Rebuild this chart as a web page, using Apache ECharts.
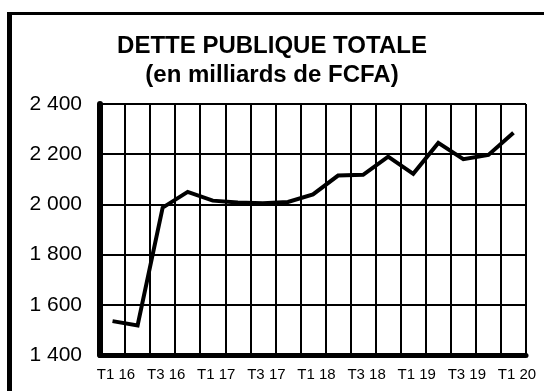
<!DOCTYPE html>
<html>
<head>
<meta charset="utf-8">
<script src="https://cdn.jsdelivr.net/npm/echarts@6/dist/echarts.min.js"></script>
<style>
  html, body { margin: 0; padding: 0; background: #fff; }
  #chart { width: 544px; height: 391px; }
</style>
</head>
<body>
<div id="chart"></div>
<script>
// Quarterly public debt, billions of FCFA
const quarters = ['T1 16', 'T2 16', 'T3 16', 'T4 16', 'T1 17', 'T2 17', 'T3 17', 'T4 17',
                  'T1 18', 'T2 18', 'T3 18', 'T4 18', 'T1 19', 'T2 19', 'T3 19', 'T4 19', 'T1 20'];
const detteTotale = [1535, 1518, 1987, 2050, 2015, 2008, 2005, 2010,
                     2040, 2115, 2118, 2190, 2122, 2245, 2180, 2197, 2285];
const yTicks = [1400, 1600, 1800, 2000, 2200, 2400];

const FONT = '"Liberation Sans", Arial, sans-serif';

function fmtThousands(v) {
  return String(v).replace(/\B(?=(\d{3})+(?!\d))/g, ' ');
}

const chart = echarts.init(document.getElementById('chart'), null, { renderer: 'canvas' });

chart.setOption({
  animation: false,
  backgroundColor: '#ffffff',
  title: {
    text: 'DETTE PUBLIQUE TOTALE\n(en milliards de FCFA)',
    left: 'center',
    top: 32,
    padding: 0,
    textStyle: {
      fontFamily: FONT,
      fontSize: 24,
      fontWeight: 'bold',
      color: '#000',
      lineHeight: 29,
      align: 'center'
    }
  },
  grid: { left: 100, right: 18, top: 104, bottom: 36, containLabel: false },
  xAxis: {
    type: 'category',
    data: quarters,
    boundaryGap: true,
    axisLine: { show: true, lineStyle: { color: '#000', width: 5 } },
    axisTick: { show: false },
    axisLabel: {
      interval: 1,
      margin: 12,
      fontFamily: FONT,
      fontSize: 15,
      color: '#000',
      padding: [0, 0, 0, 7]
    },
    splitLine: { show: true, interval: 0, lineStyle: { color: '#000', width: 2 } }
  },
  yAxis: {
    type: 'value',
    min: yTicks[0],
    max: yTicks[yTicks.length - 1],
    interval: 200,
    axisLine: { show: true, lineStyle: { color: '#000', width: 6 } },
    axisTick: { show: false },
    axisLabel: {
      margin: 18,
      fontFamily: FONT,
      fontSize: 21,
      color: '#000',
      formatter: fmtThousands
    },
    splitLine: { show: true, lineStyle: { color: '#000', width: 2 } }
  },
  series: [{
    type: 'line',
    data: detteTotale,
    symbol: 'none',
    lineStyle: { color: '#000', width: 4, join: 'miter' },
    z: 5
  }],
  graphic: [
    // outer frame (left and top edges)
    { type: 'line', shape: { x1: 9.5, y1: 12, x2: 9.5, y2: 400 }, style: { stroke: '#000', lineWidth: 5 } },
    { type: 'line', shape: { x1: 7, y1: 13.5, x2: 560, y2: 13.5 }, style: { stroke: '#000', lineWidth: 3 } }
  ]
});
</script>
</body>
</html>
